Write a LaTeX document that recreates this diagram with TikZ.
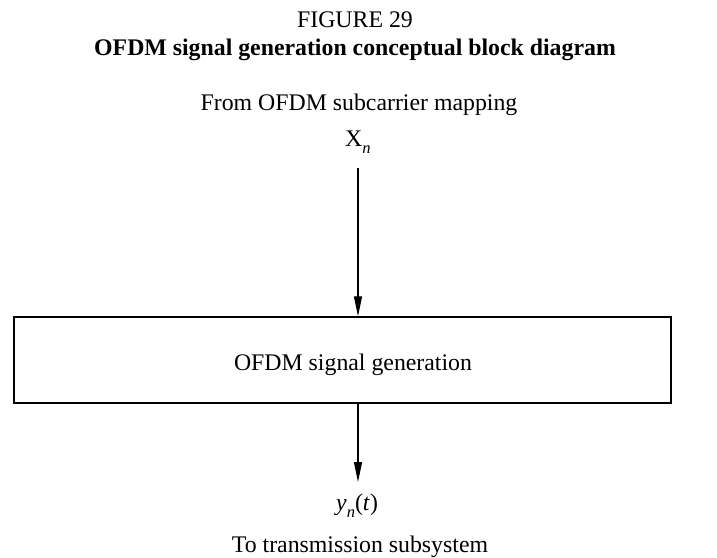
\documentclass[tikz,border=0pt]{standalone}
\usepackage{fontspec}
\setmainfont{Liberation Serif}
\usetikzlibrary{arrows.meta}

% italic lowered index, as in X_n and y_n(t)
\newcommand\lowidx[1]{\raisebox{-7pt}{\fontsize{16.5}{18}\selectfont\textit{#1}}}

\tikzset{
  lbl/.style={inner sep=0pt, anchor=base, font=\fontsize{23.8}{28}\selectfont},
  ttl/.style={lbl, font=\fontsize{23.8}{28}\selectfont\bfseries},
  block/.style={draw, line width=1.4pt, minimum width=657pt, minimum height=86pt, inner sep=0pt},
  flow/.style={line width=1.3pt, -{Triangle[length=20pt,width=8pt]}}
}

\begin{document}
\begin{tikzpicture}[x=1pt, y=-1pt]
  \useasboundingbox (0,0) rectangle (717,557);

  % captions
  \node[lbl] (fig)   at (355,27)  {FIGURE 29};
  \node[ttl] (title) at (355,55)  {OFDM signal generation conceptual block diagram};

  % input
  \node[lbl] (src) at (359,110) {From OFDM subcarrier mapping};
  \node[lbl, anchor=base west] (xn) at (345,146) {X\lowidx{n}};
  \coordinate (in) at (358,168);

  % generation block
  \node[block] (gen) at (342.5,360) {};
  \node[lbl] (genlbl) at (353,370) {OFDM signal generation};

  % output
  \coordinate (out) at (358,482);
  \node[lbl, anchor=base west] (yn) at (336,510) {\textit{y}\lowidx{n}(\textit{t})};
  \node[lbl] (dst) at (360,552) {To transmission subsystem};

  % connectors
  \draw[flow] (in) -- (in |- gen.north);
  \draw[flow] (gen.south -| out) -- (out);
\end{tikzpicture}
\end{document}
